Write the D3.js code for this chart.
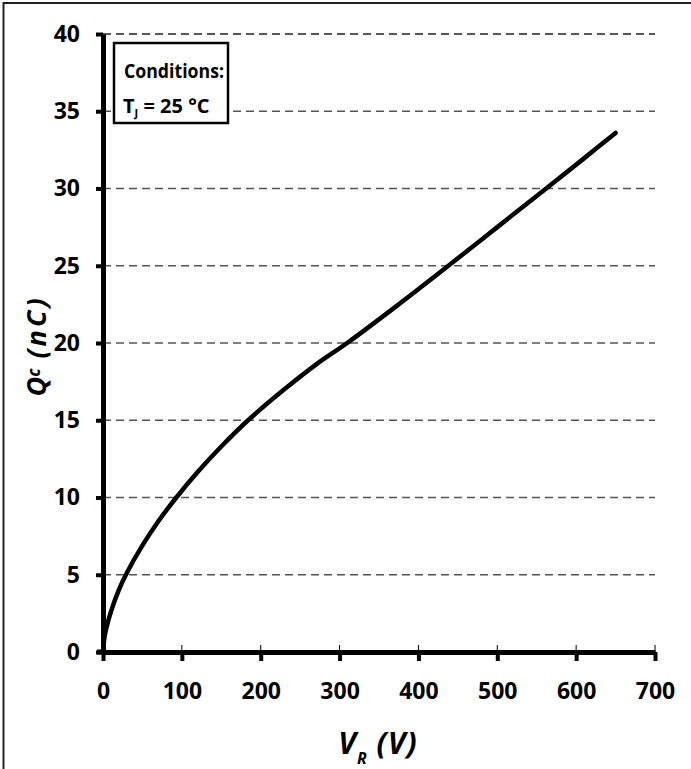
<!DOCTYPE html>
<html>
<head>
<meta charset="utf-8">
<script src="https://cdn.jsdelivr.net/npm/d3@7"></script>
<style>
  body { margin: 0; background: #fff; }
  svg { display: block; }
  text { font-family: "Open Sans", sans-serif; font-weight: bold; fill: #000; }
</style>
</head>
<body>
<svg width="691" height="769"></svg>
<script>
// data
const vr = [0, 2, 5, 10, 20, 29, 50, 70, 93, 120, 150, 184, 230, 270, 311, 375, 438, 500, 562, 610, 650];
const qc = [0, 1.0, 1.7, 2.6, 4.0, 5.0, 6.9, 8.45, 10.0, 11.65, 13.3, 15.0, 17.0, 18.6, 20.05, 22.5, 25.0, 27.5, 30.0, 31.95, 33.6];
const xTicks = [0, 100, 200, 300, 400, 500, 600, 700];
const yTicks = [0, 5, 10, 15, 20, 25, 30, 35, 40];

const svg = d3.select('svg');

// frame lines (top + left only, the picture is cropped on the other sides)
svg.append('line').attr('x1', 3).attr('x2', 691).attr('y1', 3).attr('y2', 3)
    .attr('stroke', '#222').attr('stroke-width', 2);
svg.append('line').attr('x1', 3.5).attr('x2', 3.5).attr('y1', 2).attr('y2', 769)
    .attr('stroke', '#222').attr('stroke-width', 2);

const x = d3.scaleLinear().domain([0, 700]).range([103, 655]);
const y = d3.scaleLinear().domain([0, 40]).range([652, 34]);

// dashed grid
svg.append('g').selectAll('line')
    .data(yTicks.filter(d => d > 0))
    .enter().append('line')
        .attr('x1', x(0)).attr('x2', x(700))
        .attr('y1', d => y(d)).attr('y2', d => y(d))
        .attr('stroke', d => d === 40 ? '#222' : '#555')
        .attr('stroke-width', 1.5)
        .attr('stroke-dasharray', '8,5');

// thin marks above the x axis
svg.append('g').selectAll('line')
    .data(xTicks)
    .enter().append('line')
        .attr('x1', d => x(d)).attr('x2', d => x(d))
        .attr('y1', y(0) - 7).attr('y2', y(0))
        .attr('stroke', '#000').attr('stroke-width', 1);

const xAxis = svg.append('g')
    .attr('transform', `translate(0,${y(0)})`)
    .call(d3.axisBottom(x).tickValues(xTicks).tickSizeInner(9).tickSizeOuter(0).tickPadding(22));
const yAxis = svg.append('g')
    .attr('transform', `translate(${x(0)},0)`)
    .call(d3.axisLeft(y).tickValues(yTicks).tickSizeInner(7).tickSizeOuter(0).tickPadding(16));

[xAxis, yAxis].forEach(a => {
    a.select('.domain').attr('stroke', '#000').attr('stroke-width', 5);
    a.selectAll('.tick line').attr('stroke', '#000').attr('stroke-width', 4);
    a.selectAll('.tick text').attr('font-size', 23).attr('font-family', '"Open Sans", sans-serif')
        .attr('font-weight', 'bold').attr('fill', '#000');
});
// extend x axis a bit to the left like the reference
svg.append('line').attr('x1', 97).attr('x2', x(0)).attr('y1', y(0)).attr('y2', y(0))
    .attr('stroke', '#000').attr('stroke-width', 5);

// curve
const line = d3.line()
    .x((d, i) => x(vr[i]))
    .y(d => y(d))
    .curve(d3.curveCatmullRom.alpha(0.5));

svg.append('path')
    .datum(qc)
    .attr('d', line)
    .attr('fill', 'none')
    .attr('stroke', '#000')
    .attr('stroke-width', 4.5)
    .attr('stroke-linecap', 'round');

// conditions box
svg.append('rect')
    .attr('x', 114).attr('y', 43).attr('width', 114).attr('height', 80)
    .attr('fill', '#fff').attr('stroke', '#000').attr('stroke-width', 2.5);
svg.append('text')
    .attr('x', 124).attr('y', 78)
    .attr('font-size', 20)
    .attr('textLength', 100).attr('lengthAdjust', 'spacingAndGlyphs')
    .text('Conditions:');
const tj = svg.append('text')
    .attr('x', 123).attr('y', 113)
    .attr('font-size', 20);
tj.append('tspan').text('T');
tj.append('tspan').attr('font-size', 11).attr('dy', 4).text('J');
tj.append('tspan').attr('dy', -4).text(' = 25 °C');

// axis titles
const yl = svg.append('text')
    .attr('transform', 'translate(46,346) rotate(-90)')
    .attr('text-anchor', 'middle')
    .attr('font-style', 'italic')
    .attr('font-size', 27);
yl.append('tspan').text('Q');
yl.append('tspan').attr('font-size', 17).attr('dy', -6).text('c');
yl.append('tspan').attr('dy', 6).attr('letter-spacing', 3).text(' (nC)');

const xl = svg.append('text')
    .attr('x', 378).attr('y', 754)
    .attr('text-anchor', 'middle')
    .attr('font-style', 'italic')
    .attr('font-size', 30)
    .attr('letter-spacing', 1);
xl.append('tspan').text('V');
xl.append('tspan').attr('font-size', 16).attr('dy', 10).text('R');
xl.append('tspan').attr('dy', -10).text(' (V)');
</script>
</body>
</html>
